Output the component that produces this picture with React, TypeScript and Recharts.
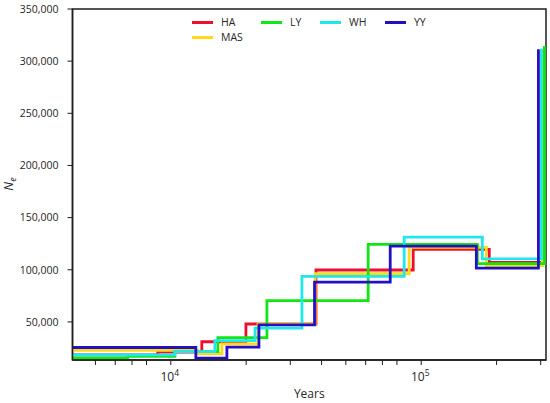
import React from "react";
import { LineChart, Line, XAxis, YAxis, Legend, ReferenceArea, Label } from "recharts";

// step change points (years ago) and effective population size after each change
const haYears = [4000, 8870, 13300, 19950, 38000, 92900, 187000, 307600];
const haNe = [18500, 21000, 31000, 48000, 99800, 119500, 107000, 310000];

const masYears = [4000, 12800, 16000, 22300, 37700, 89500, 182000, 304800];
const masNe = [22800, 19500, 29000, 48000, 96200, 121500, 104000, 309000];

const lyYears = [4000, 6730, 10380, 15420, 24200, 61400, 167500, 310500];
const lyNe = [15500, 17000, 21500, 35000, 70500, 124300, 105800, 314500];

const whYears = [4000, 10380, 15000, 21700, 33400, 85500, 175400, 302000];
const whNe = [18500, 21500, 32000, 44000, 93600, 131300, 110500, 312000];

const yyYears = [4000, 12590, 16750, 22490, 37500, 75200, 166000, 293800];
const yyNe = [25500, 15300, 25800, 47200, 88100, 122650, 101500, 311500];

const xTicks = [5000, 6000, 7000, 8000, 10000, 20000, 30000, 40000, 50000, 60000, 70000, 80000, 100000, 200000, 300000];
const yTicks = [50000, 100000, 150000, 200000, 250000, 300000, 350000];

const X_DOMAIN = [4050, 315000];
const Y_DOMAIN = [13500, 350000];

const toPoints = (years: number[], ne: number[]) => years.map((x, i) => ({ x, y: ne[i] }));

const series = [
  { name: "HA", color: "#ee0f2d", data: toPoints(haYears, haNe) },
  { name: "MAS", color: "#ffd91a", data: toPoints(masYears, masNe) },
  { name: "LY", color: "#12e612", data: toPoints(lyYears, lyNe) },
  { name: "WH", color: "#1ee8ee", data: toPoints(whYears, whNe) },
  { name: "YY", color: "#2410c4", data: toPoints(yyYears, yyNe) },
];

const FONT = "'Open Sans', 'DejaVu Sans', sans-serif";
const INK = "#1e1e1e";
const TEXT = "#262626";

// legend columns: HA/MAS share the first one, like the figure (4 columns, 2 rows)
const legendSpots: Record<string, { left: number; top: number }> = {
  HA: { left: 0, top: 0 },
  MAS: { left: 0, top: 15 },
  LY: { left: 69, top: 0 },
  WH: { left: 128, top: 0 },
  YY: { left: 193, top: 0 },
};

function renderLegend() {
  return (
    <div style={{ position: "relative", width: 240, height: 32 }}>
      {series.map((s) => (
        <div
          key={s.name}
          style={{
            position: "absolute",
            left: legendSpots[s.name].left,
            top: legendSpots[s.name].top,
            display: "flex",
            alignItems: "center",
            fontFamily: FONT,
            fontSize: 10.5,
            color: TEXT,
            whiteSpace: "nowrap",
          }}
        >
          <span style={{ display: "inline-block", width: 21, height: 3, background: s.color, marginRight: 8 }} />
          {s.name}
        </div>
      ))}
    </div>
  );
}

function YearTick(props: any) {
  const { x, y, payload } = props;
  const v = payload.value;
  const exp = Math.round(Math.log10(v));
  if (Math.abs(Math.pow(10, exp) - v) > 1e-6) return <g />;
  return (
    <text x={x - 1} y={y + 14} textAnchor="middle" fontSize={12} fill={TEXT} fontFamily={FONT}>
      10
      <tspan dy={-5} fontSize={8.5}>
        {exp}
      </tspan>
    </text>
  );
}

export default function App() {
  return (
    <div style={{ position: "absolute", left: 0, top: 0, background: "#fff" }}>
      <LineChart width={550} height={403} margin={{ top: 9, right: 4, bottom: 0, left: 0 }}>
        <XAxis
          type="number"
          dataKey="x"
          scale="log"
          domain={X_DOMAIN}
          allowDataOverflow
          ticks={xTicks}
          interval={0}
          tick={<YearTick />}
          tickSize={5}
          height={43}
          axisLine={{ stroke: INK, strokeWidth: 1.5 }}
          tickLine={{ stroke: INK }}
        >
          <Label
            content={(p: any) => {
              const vb = p.viewBox || {};
              return (
                <text x={vb.x + vb.width / 2} y={398} textAnchor="middle" fontSize={12} fill={TEXT} fontFamily={FONT}>
                  Years
                </text>
              );
            }}
          />
        </XAxis>
        <YAxis
          type="number"
          domain={Y_DOMAIN}
          allowDataOverflow
          ticks={yTicks}
          width={72.5}
          tickSize={5}
          tickMargin={9}
          tickFormatter={(v: number) => v.toLocaleString("en-US")}
          tick={{ fontSize: 10.5, fill: TEXT, fontFamily: FONT }}
          axisLine={{ stroke: INK, strokeWidth: 1.5 }}
          tickLine={{ stroke: INK }}
        >
          <Label
            content={() => (
              <text
                transform="translate(13,184) rotate(-90)"
                textAnchor="middle"
                fontSize={12.5}
                fontStyle="italic"
                fill={TEXT}
                fontFamily={FONT}
              >
                N
                <tspan dy={3} fontSize={9}>
                  e
                </tspan>
              </text>
            )}
          />
        </YAxis>
        <ReferenceArea
          x1={X_DOMAIN[0]}
          x2={X_DOMAIN[1]}
          y1={Y_DOMAIN[0]}
          y2={Y_DOMAIN[1]}
          fill="none"
          stroke={INK}
          strokeWidth={1.5}
          ifOverflow="visible"
        />
        <Legend
          layout="horizontal"
          verticalAlign="middle"
          align="center"
          content={renderLegend}
          wrapperStyle={{ top: 15, left: 192, width: 240, height: 32 }}
        />
        {series.map((s) => (
          <Line
            key={s.name}
            data={s.data}
            dataKey="y"
            name={s.name}
            type="stepAfter"
            stroke={s.color}
            strokeWidth={2.8}
            dot={false}
            isAnimationActive={false}
          />
        ))}
      </LineChart>
    </div>
  );
}
